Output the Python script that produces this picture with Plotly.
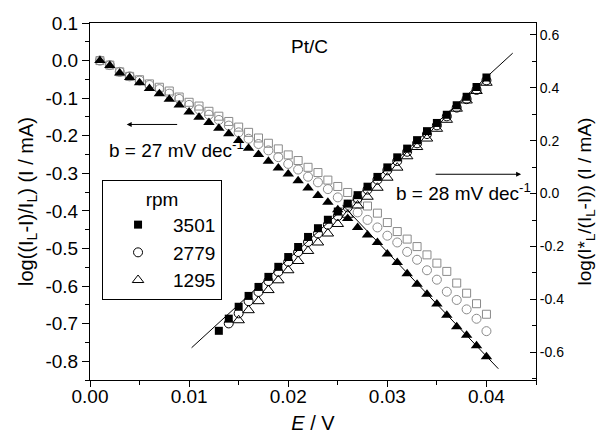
import plotly.graph_objects as go

# ---------------- data ----------------
E_all = [0.001, 0.002, 0.003, 0.004, 0.005, 0.006, 0.007, 0.008, 0.009, 0.010,
         0.011, 0.012, 0.013, 0.014, 0.015, 0.016, 0.017, 0.018, 0.019, 0.020,
         0.021, 0.022, 0.023, 0.024, 0.025, 0.026, 0.027, 0.028, 0.029, 0.030,
         0.031, 0.032, 0.033, 0.034, 0.035, 0.036, 0.037, 0.038, 0.039, 0.040]

# descending series (left axis)
left_tri = [0.000, -0.013, -0.033, -0.045, -0.059, -0.074, -0.088, -0.103, -0.118, -0.137,
            -0.151, -0.165, -0.180, -0.195, -0.213, -0.233, -0.250, -0.268, -0.286, -0.302,
            -0.320, -0.339, -0.359, -0.377, -0.397, -0.420, -0.444, -0.464, -0.484, -0.515,
            -0.537, -0.567, -0.595, -0.622, -0.648, -0.678, -0.708, -0.731, -0.759, -0.788]
left_sq = [0.000, -0.012, -0.030, -0.042, -0.051, -0.062, -0.071, -0.081, -0.097, -0.111,
           -0.121, -0.135, -0.148, -0.162, -0.177, -0.191, -0.206, -0.220, -0.235, -0.251,
           -0.266, -0.284, -0.298, -0.318, -0.335, -0.351, -0.368, -0.387, -0.406, -0.431,
           -0.455, -0.475, -0.495, -0.517, -0.539, -0.561, -0.592, -0.619, -0.647, -0.675]
left_circ = [0.000, -0.012, -0.030, -0.042, -0.053, -0.065, -0.076, -0.088, -0.102, -0.118,
             -0.130, -0.144, -0.158, -0.173, -0.191, -0.208, -0.222, -0.239, -0.257, -0.275,
             -0.290, -0.309, -0.324, -0.342, -0.364, -0.384, -0.404, -0.424, -0.444, -0.466,
             -0.484, -0.509, -0.530, -0.558, -0.583, -0.615, -0.637, -0.662, -0.687, -0.720]

# ascending series (right axis)
E_sq = [0.013, 0.014, 0.015, 0.016, 0.017, 0.018, 0.019, 0.020, 0.021, 0.022,
        0.023, 0.024, 0.025, 0.026, 0.027, 0.028, 0.029, 0.030, 0.031, 0.032,
        0.033, 0.034, 0.035, 0.036, 0.037, 0.038, 0.039, 0.040]
right_sq = [-0.519, -0.473, -0.428, -0.387, -0.353, -0.315, -0.277, -0.240, -0.202, -0.164,
            -0.131, -0.099, -0.068, -0.038, -0.006, 0.026, 0.063, 0.099, 0.137, 0.170,
            0.202, 0.236, 0.267, 0.298, 0.334, 0.366, 0.403, 0.439]
E_circ = [0.014, 0.015, 0.016, 0.017, 0.018, 0.019, 0.020, 0.021, 0.022, 0.023,
          0.024, 0.025, 0.026, 0.027, 0.028, 0.029, 0.030, 0.031, 0.032, 0.033,
          0.034, 0.035, 0.036, 0.037, 0.038, 0.039, 0.040]
right_circ = [-0.491, -0.453, -0.407, -0.372, -0.331, -0.296, -0.258, -0.221, -0.183, -0.151,
              -0.118, -0.085, -0.052, -0.018, 0.015, 0.052, 0.088, 0.123, 0.158, 0.190,
              0.225, 0.258, 0.292, 0.325, 0.357, 0.392, 0.428]
E_tri = [0.015, 0.016, 0.017, 0.018, 0.019, 0.020, 0.021, 0.022, 0.023, 0.024,
         0.025, 0.026, 0.027, 0.028, 0.029, 0.030, 0.031, 0.032, 0.033, 0.034,
         0.035, 0.036, 0.037, 0.038, 0.039, 0.040]
right_tri = [-0.479, -0.441, -0.407, -0.365, -0.328, -0.290, -0.255, -0.217, -0.185, -0.151,
             -0.115, -0.080, -0.045, -0.012, 0.022, 0.060, 0.098, 0.141, 0.176, 0.208,
             0.245, 0.279, 0.321, 0.352, 0.388, 0.419]

# linear fits (Tafel lines)
fit_left_E = [0.0255, 0.0412]
fit_left_log = [-0.385, -0.820]
fit_right_E = [0.01025, 0.04265]
fit_right_log = [-0.583, 0.531]

rpm_labels = ["3501", "2779", "1295"]

# tick labels
x_ticks = [0.00, 0.01, 0.02, 0.03, 0.04]
x_ticktext = ["0.00", "0.01", "0.02", "0.03", "0.04"]
yl_ticks = [0.1, 0.0, -0.1, -0.2, -0.3, -0.4, -0.5, -0.6, -0.7, -0.8]
yl_ticktext = ["0.1", "0.0", "-0.1", "-0.2", "-0.3", "-0.4", "-0.5", "-0.6", "-0.7", "-0.8"]
yr_ticks = [0.6, 0.4, 0.2, 0.0, -0.2, -0.4, -0.6]
yr_ticktext = ["0.6", "0.4", "0.2", "0.0", "-0.2", "-0.4", "-0.6"]

# ---------------- figure ----------------
FONT = "Liberation Sans, Arial, sans-serif"
GRAY = "#8a8a8a"

fig = go.Figure()

# fit lines
fig.add_trace(go.Scatter(x=fit_left_E, y=fit_left_log, mode="lines",
                         line=dict(color="black", width=1), showlegend=False, yaxis="y"))
fig.add_trace(go.Scatter(x=fit_right_E, y=fit_right_log, mode="lines",
                         line=dict(color="black", width=1), showlegend=False, yaxis="y2"))

# descending (left axis)
fig.add_trace(go.Scatter(x=E_all, y=left_sq, mode="markers", showlegend=False,
                         marker=dict(symbol="square-open", size=8, color=GRAY, line=dict(width=1, color=GRAY))))
fig.add_trace(go.Scatter(x=E_all, y=left_circ, mode="markers", showlegend=False,
                         marker=dict(symbol="circle-open", size=9, color=GRAY, line=dict(width=1, color=GRAY))))
fig.add_trace(go.Scatter(x=E_all, y=left_tri, mode="markers", showlegend=False,
                         marker=dict(symbol="triangle-up", size=10, color="black")))

# ascending (right axis)
fig.add_trace(go.Scatter(x=E_sq, y=right_sq, mode="markers", name=rpm_labels[0], yaxis="y2",
                         marker=dict(symbol="square", size=8, color="black")))
fig.add_trace(go.Scatter(x=E_circ, y=right_circ, mode="markers", name=rpm_labels[1], yaxis="y2",
                         marker=dict(symbol="circle-open", size=9, color="black", line=dict(width=1, color="black"))))
fig.add_trace(go.Scatter(x=E_tri, y=right_tri, mode="markers", name=rpm_labels[2], yaxis="y2",
                         marker=dict(symbol="triangle-up-open", size=10, color="black", line=dict(width=1, color="black"))))

common_axis = dict(showgrid=False, zeroline=False, showline=True, linecolor="black", linewidth=1,
                   tickcolor="black", tickwidth=1, automargin=False)

fig.update_layout(
    width=598, height=443,
    margin=dict(l=90, r=62, t=23, b=63),
    plot_bgcolor="white", paper_bgcolor="white",
    font=dict(family=FONT, color="black", size=18),
    xaxis=dict(**common_axis, range=[0, 0.045], mirror=True,
               tickvals=x_ticks, ticktext=x_ticktext, ticks="outside", ticklen=6,
               tickfont=dict(size=19), ticklabelstandoff=-7,
               minor=dict(dtick=0.005, tick0=0, ticks="outside", ticklen=4, tickcolor="black"),
               title=dict(text="<i>E</i> / V", font=dict(size=20), standoff=10)),
    yaxis=dict(**common_axis, range=[-0.85, 0.1],
               tickvals=yl_ticks, ticktext=yl_ticktext, ticks="outside", ticklen=7,
               tickfont=dict(size=19),
               minor=dict(dtick=0.05, tick0=0, ticks="outside", ticklen=4, tickcolor="black"),
               title=dict(text="log((I<sub>L</sub>-I)/I<sub>L</sub>) (I / mA)", font=dict(size=20), standoff=6)),
    yaxis2=dict(**common_axis, range=[-0.705, 0.645], overlaying="y", side="right",
                tickvals=yr_ticks, ticktext=yr_ticktext, ticks="inside", ticklen=6,
                tickfont=dict(size=14),
                minor=dict(dtick=0.1, tick0=0, ticks="inside", ticklen=4, tickcolor="black"),
                title=dict(text="log(I*<sub>L</sub>/(I<sub>L</sub>-I)) (I / mA)", font=dict(size=19), standoff=14)),
    legend=dict(x=0.027, y=0.56, xanchor="left", yanchor="top",
                bordercolor="black", borderwidth=1, bgcolor="white",
                font=dict(size=19), itemwidth=60,
                title=dict(text="rpm", side="top center", font=dict(size=19)),
                tracegroupgap=0),
    showlegend=True,
)

# text annotations
fig.add_annotation(x=0.0221, y=0.038, xref="x", yref="y", text="Pt/C", showarrow=False,
                   font=dict(size=19))
fig.add_annotation(x=0.0017, y=-0.234, xref="x", yref="y", xanchor="left", yanchor="middle",
                   text="b = 27 mV dec<sup>-1</sup>", showarrow=False, font=dict(size=19))
fig.add_annotation(x=0.0307, y=0.005, xref="x", yref="y2", xanchor="left", yanchor="middle",
                   text="b = 28 mV dec<sup>-1</sup>", showarrow=False, font=dict(size=19))
# arrows (tail offset in pixels)
fig.add_annotation(x=0.0037, y=-0.170, ax=52, ay=0, xref="x", yref="y",
                   text="", showarrow=True, arrowhead=2,
                   arrowsize=1, arrowwidth=1, arrowcolor="black")
fig.add_annotation(x=0.0435, y=0.073, ax=-87, ay=0, xref="x", yref="y2",
                   text="", showarrow=True, arrowhead=2,
                   arrowsize=1, arrowwidth=1, arrowcolor="black")

fig.write_html("out.html", config={"displayModeBar": False},
               post_script="document.body.style.margin='0';document.body.style.overflow='hidden';")
